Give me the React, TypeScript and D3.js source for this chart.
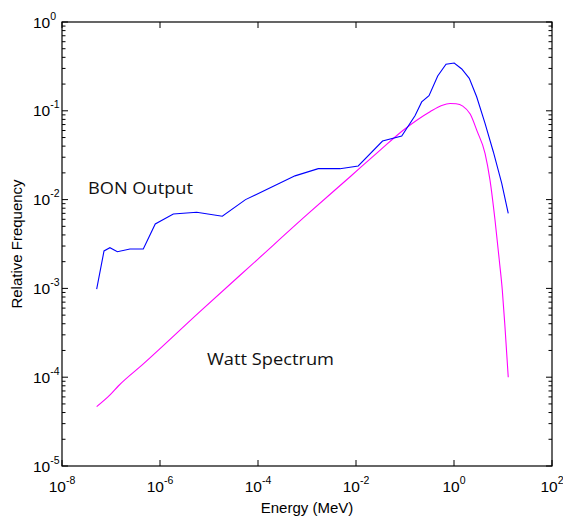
import React from "react";
import * as d3 from "d3";

// BON Output (blue)
const bonEnergy = [5.1e-8, 7.2e-8, 9.5e-8, 1.35e-7, 2.44e-7, 4.56e-7, 8.0e-7, 1.87e-6, 5.6e-6, 1.87e-5, 5.56e-5, 5.69e-4, 1.7e-3, 4.71e-3, 1.11e-2, 3.48e-2, 8.57e-2, 0.16, 0.219, 0.309, 0.465, 0.687, 1.01, 1.44, 2.05, 2.9, 4.3, 6.34, 9.4, 12.8];
const bonFreq = [9.8e-4, 2.64e-3, 2.87e-3, 2.59e-3, 2.78e-3, 2.78e-3, 5.31e-3, 6.89e-3, 7.19e-3, 6.49e-3, 1.0e-2, 1.85e-2, 2.23e-2, 2.23e-2, 2.39e-2, 4.57e-2, 5.2e-2, 8.81e-2, 0.126, 0.148, 0.247, 0.334, 0.345, 0.296, 0.232, 0.144, 7.23e-2, 3.46e-2, 1.53e-2, 7.0e-3];

// Watt Spectrum (magenta)
const wattEnergy = [5.1e-8, 9.55e-8, 1.41e-7, 4.57e-7, 6.61e-6, 1e-4, 1e-3, 7.59e-3, 3.16e-2, 9.33e-2, 0.324, 0.562, 0.832, 1.1, 1.51, 2.14, 2.99, 4.3, 5.43, 6.87, 8.39, 9.68, 10.96, 12.8];
const wattFreq = [4.66e-5, 6.31e-5, 7.96e-5, 1.41e-4, 5.5e-4, 2.14e-3, 6.76e-3, 1.81e-2, 3.63e-2, 6.08e-2, 9.77e-2, 0.115, 0.121, 0.12, 0.113, 9.2e-2, 5.82e-2, 3.32e-2, 1.66e-2, 5.89e-3, 2.09e-3, 9.55e-4, 3.72e-4, 1e-4];

const xTickExps = [-8, -6, -4, -2, 0, 2];
const yTickExps = [0, -1, -2, -3, -4, -5];

const annotations = [
  { text: "BON Output", x: 88, y: 194, width: 105 },
  { text: "Watt Spectrum", x: 207, y: 365, width: 127 },
];

const L = 62, R = 552, T = 22, B = 466;

export default function App() {
  const x = d3.scaleLog().domain([1e-8, 1e2]).range([L, R]);
  const y = d3.scaleLog().domain([1e-5, 1]).range([B, T]);

  const line = d3.line<[number, number]>().x(d => x(d[0])).y(d => y(d[1]));
  const bonPath = line(bonEnergy.map((e, i) => [e, bonFreq[i]]) as [number, number][]) || "";
  const wattPath = line.curve(d3.curveMonotoneX)(wattEnergy.map((e, i) => [e, wattFreq[i]]) as [number, number][]) || "";

  const minorY: number[] = [];
  for (let k = -5; k < 0; k++) {
    for (let m = 2; m <= 9; m++) minorY.push(m * Math.pow(10, k));
  }

  const font = "'Liberation Sans', Arial, sans-serif";

  return (
    <svg width={563} height={520} style={{ position: "absolute", left: 0, top: 0, background: "#fff" }}>
      <rect x={0} y={0} width={563} height={520} fill="#fff" />
      {/* curves */}
      <path d={wattPath} fill="none" stroke="#ff00ff" strokeWidth={1.1} />
      <path d={bonPath} fill="none" stroke="#0000ff" strokeWidth={1.1} />
      {/* box */}
      <rect x={L} y={T} width={R - L} height={B - T} fill="none" stroke="#000" strokeWidth={1.2} />
      {/* y ticks */}
      {yTickExps.map(e => {
        const yy = y(Math.pow(10, e));
        return (
          <g key={"y" + e}>
            <line x1={L} x2={L + 6} y1={yy} y2={yy} stroke="#000" />
            <line x1={R} x2={R - 6} y1={yy} y2={yy} stroke="#000" />
            <text x={33} y={yy + 5.5} fontFamily={font} fontSize={15.5} fill="#000">
              10<tspan dy={-8} fontSize={10.5}>{e}</tspan>
            </text>
          </g>
        );
      })}
      {minorY.map((v, i) => {
        const yy = y(v);
        return (
          <g key={"my" + i}>
            <line x1={L} x2={L + 3.5} y1={yy} y2={yy} stroke="#000" />
            <line x1={R} x2={R - 3.5} y1={yy} y2={yy} stroke="#000" />
          </g>
        );
      })}
      {/* x ticks */}
      {xTickExps.map(e => {
        const xx = x(Math.pow(10, e));
        return (
          <g key={"x" + e}>
            <line x1={xx} x2={xx} y1={B} y2={B - 6} stroke="#000" />
            <line x1={xx} x2={xx} y1={T} y2={T + 6} stroke="#000" />
            <text x={xx} y={492} fontFamily={font} fontSize={15.5} fill="#000" textAnchor="middle">
              10<tspan dy={-8} fontSize={10.5}>{e}</tspan>
            </text>
          </g>
        );
      })}
      {/* axis labels */}
      <text x={307} y={513} fontFamily={font} fontSize={15} textAnchor="middle" fill="#000">Energy (MeV)</text>
      <text transform={`translate(22,244) rotate(-90)`} fontFamily={font} fontSize={15} textAnchor="middle" fill="#000">Relative Frequency</text>
      {/* annotations */}
      {annotations.map(a => (
        <text key={a.text} x={a.x} y={a.y} fontFamily="'Open Sans', sans-serif" fontSize={16.5} fill="#111"
          textLength={a.width} lengthAdjust="spacingAndGlyphs">{a.text}</text>
      ))}
    </svg>
  );
}
